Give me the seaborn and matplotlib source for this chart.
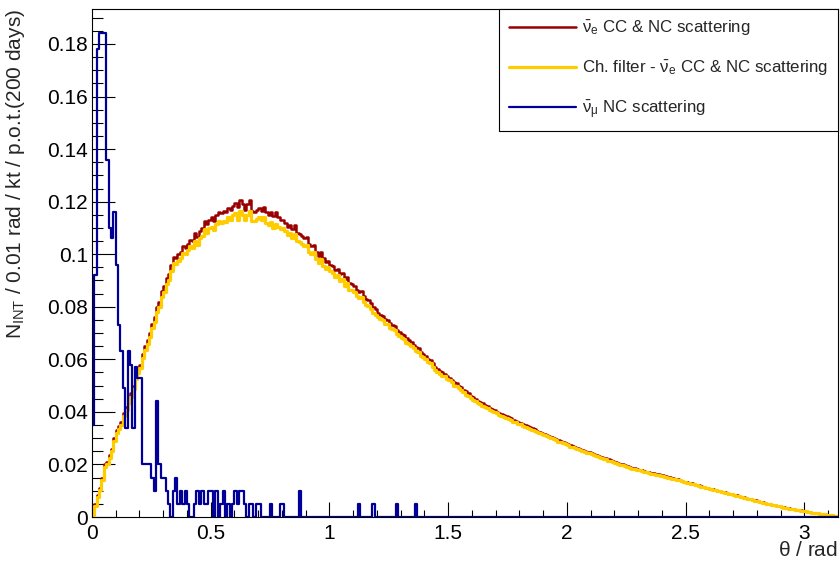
import numpy as np
import pandas as pd
import matplotlib
matplotlib.use("Agg")
import matplotlib.pyplot as plt
import seaborn as sns
from matplotlib.ticker import MultipleLocator, FormatStrFormatter

# histogram binning: 0.01 rad bins from 0 to pi
bin_width = 0.01
n_bins = 314

# anti-nu_e CC & NC scattering (all events)
nue_all = [
    0.0015, 0.0050, 0.0085, 0.0110, 0.0150, 0.0200, 0.0210, 0.0235, 0.0260, 0.0300,
    0.0330, 0.0345, 0.0360, 0.0395, 0.0420, 0.0445, 0.0470, 0.0500, 0.0540, 0.0560,
    0.0580, 0.0620, 0.0650, 0.0675, 0.0700, 0.0735, 0.0760, 0.0800, 0.0820, 0.0860,
    0.0880, 0.0910, 0.0925, 0.0960, 0.0990, 0.0985, 0.1000, 0.1010, 0.1030, 0.1025,
    0.1040, 0.1055, 0.1050, 0.1080, 0.1065, 0.1090, 0.1100, 0.1125, 0.1115, 0.1130,
    0.1140, 0.1125, 0.1150, 0.1160, 0.1155, 0.1165, 0.1160, 0.1175, 0.1170, 0.1185,
    0.1195, 0.1180, 0.1205, 0.1190, 0.1170, 0.1190, 0.1205, 0.1165, 0.1160, 0.1170,
    0.1175, 0.1165, 0.1180, 0.1160, 0.1150, 0.1160, 0.1145, 0.1160, 0.1140, 0.1130,
    0.1130, 0.1120, 0.1105, 0.1110, 0.1095, 0.1110, 0.1080, 0.1075, 0.1070, 0.1060,
    0.1065, 0.1040, 0.1030, 0.1035, 0.1010, 0.0995, 0.1010, 0.0985, 0.0970, 0.0975,
    0.0960, 0.0955, 0.0940, 0.0945, 0.0925, 0.0930, 0.0905, 0.0915, 0.0890, 0.0885,
    0.0880, 0.0865, 0.0855, 0.0860, 0.0840, 0.0830, 0.0825, 0.0815, 0.0800, 0.0790,
    0.0778, 0.0770, 0.0765, 0.0752, 0.0750, 0.0738, 0.0730, 0.0728, 0.0712, 0.0705,
    0.0697, 0.0692, 0.0680, 0.0672, 0.0665, 0.0656, 0.0645, 0.0642, 0.0628, 0.0620,
    0.0612, 0.0602, 0.0598, 0.0585, 0.0572, 0.0565, 0.0555, 0.0550, 0.0546, 0.0535,
    0.0530, 0.0522, 0.0512, 0.0508, 0.0500, 0.0493, 0.0485, 0.0478, 0.0470, 0.0462,
    0.0455, 0.0450, 0.0443, 0.0438, 0.0432, 0.0425, 0.0421, 0.0415, 0.0410, 0.0406,
    0.0401, 0.0397, 0.0392, 0.0388, 0.0384, 0.0380, 0.0376, 0.0370, 0.0367, 0.0362,
    0.0358, 0.0354, 0.0350, 0.0345, 0.0342, 0.0337, 0.0333, 0.0329, 0.0325, 0.0321,
    0.0317, 0.0313, 0.0309, 0.0305, 0.0301, 0.0297, 0.0292, 0.0289, 0.0285, 0.0281,
    0.0277, 0.0273, 0.0270, 0.0266, 0.0262, 0.0259, 0.0256, 0.0252, 0.0249, 0.0246,
    0.0243, 0.0239, 0.0236, 0.0233, 0.0230, 0.0226, 0.0223, 0.0219, 0.0216, 0.0213,
    0.0209, 0.0206, 0.0203, 0.0200, 0.0197, 0.0194, 0.0191, 0.0188, 0.0185, 0.0182,
    0.0180, 0.0178, 0.0176, 0.0173, 0.0171, 0.0169, 0.0166, 0.0164, 0.0162, 0.0160,
    0.0158, 0.0157, 0.0153, 0.0151, 0.0149, 0.0146, 0.0143, 0.0141, 0.0138, 0.0135,
    0.0133, 0.0130, 0.0128, 0.0125, 0.0122, 0.0121, 0.0117, 0.0115, 0.0112, 0.0110,
    0.0107, 0.0105, 0.0103, 0.0100, 0.0099, 0.0096, 0.0094, 0.0091, 0.0089, 0.0087,
    0.0085, 0.0082, 0.0080, 0.0078, 0.0075, 0.0073, 0.0070, 0.0068, 0.0065, 0.0063,
    0.0060, 0.0058, 0.0056, 0.0053, 0.0051, 0.0049, 0.0047, 0.0045, 0.0042, 0.0040,
    0.0038, 0.0037, 0.0035, 0.0033, 0.0031, 0.0030, 0.0028, 0.0026, 0.0025, 0.0023,
    0.0022, 0.0020, 0.0019, 0.0017, 0.0016, 0.0015, 0.0013, 0.0012, 0.0010, 0.0009,
    0.0008, 0.0006, 0.0004, 0.0002,
]

# same channel after the Cherenkov filter
nue_filter = [
    0.0008, 0.0042, 0.0078, 0.0102, 0.0142, 0.0190, 0.0202, 0.0226, 0.0250, 0.0290,
    0.0320, 0.0335, 0.0350, 0.0385, 0.0408, 0.0432, 0.0458, 0.0488, 0.0526, 0.0548,
    0.0566, 0.0605, 0.0636, 0.0660, 0.0684, 0.0718, 0.0742, 0.0780, 0.0800, 0.0838,
    0.0858, 0.0888, 0.0900, 0.0935, 0.0965, 0.0962, 0.0975, 0.0985, 0.1005, 0.1000,
    0.1015, 0.1030, 0.1022, 0.1050, 0.1035, 0.1060, 0.1068, 0.1095, 0.1082, 0.1098,
    0.1105, 0.1092, 0.1115, 0.1125, 0.1120, 0.1128, 0.1122, 0.1140, 0.1132, 0.1150,
    0.1158, 0.1130, 0.1165, 0.1150, 0.1132, 0.1150, 0.1165, 0.1128, 0.1125, 0.1135,
    0.1140, 0.1130, 0.1142, 0.1120, 0.1110, 0.1122, 0.1098, 0.1115, 0.1102, 0.1095,
    0.1098, 0.1090, 0.1072, 0.1080, 0.1062, 0.1078, 0.1050, 0.1045, 0.1040, 0.1030,
    0.1035, 0.1010, 0.1000, 0.1008, 0.0980, 0.0968, 0.0982, 0.0955, 0.0942, 0.0950,
    0.0935, 0.0930, 0.0915, 0.0920, 0.0898, 0.0905, 0.0880, 0.0890, 0.0865, 0.0862,
    0.0858, 0.0842, 0.0832, 0.0838, 0.0818, 0.0808, 0.0802, 0.0792, 0.0778, 0.0770,
    0.0760, 0.0752, 0.0750, 0.0735, 0.0734, 0.0720, 0.0715, 0.0712, 0.0696, 0.0690,
    0.0683, 0.0678, 0.0664, 0.0660, 0.0650, 0.0642, 0.0630, 0.0629, 0.0612, 0.0607,
    0.0600, 0.0588, 0.0586, 0.0572, 0.0560, 0.0553, 0.0543, 0.0535, 0.0536, 0.0524,
    0.0520, 0.0512, 0.0500, 0.0498, 0.0490, 0.0483, 0.0475, 0.0466, 0.0462, 0.0452,
    0.0447, 0.0442, 0.0434, 0.0431, 0.0424, 0.0418, 0.0414, 0.0406, 0.0403, 0.0399,
    0.0394, 0.0390, 0.0384, 0.0382, 0.0377, 0.0374, 0.0369, 0.0363, 0.0361, 0.0355,
    0.0352, 0.0347, 0.0344, 0.0338, 0.0336, 0.0331, 0.0327, 0.0322, 0.0319, 0.0315,
    0.0311, 0.0307, 0.0304, 0.0299, 0.0296, 0.0292, 0.0286, 0.0284, 0.0280, 0.0276,
    0.0273, 0.0268, 0.0266, 0.0262, 0.0257, 0.0255, 0.0252, 0.0247, 0.0245, 0.0242,
    0.0239, 0.0235, 0.0232, 0.0229, 0.0226, 0.0222, 0.0219, 0.0215, 0.0212, 0.0209,
    0.0205, 0.0202, 0.0199, 0.0196, 0.0193, 0.0190, 0.0187, 0.0184, 0.0181, 0.0178,
    0.0177, 0.0174, 0.0172, 0.0170, 0.0168, 0.0165, 0.0163, 0.0161, 0.0158, 0.0156,
    0.0156, 0.0154, 0.0150, 0.0149, 0.0146, 0.0144, 0.0141, 0.0139, 0.0136, 0.0134,
    0.0131, 0.0129, 0.0126, 0.0124, 0.0121, 0.0119, 0.0116, 0.0113, 0.0111, 0.0109,
    0.0106, 0.0104, 0.0102, 0.0099, 0.0098, 0.0095, 0.0093, 0.0090, 0.0088, 0.0086,
    0.0084, 0.0081, 0.0079, 0.0077, 0.0074, 0.0072, 0.0069, 0.0067, 0.0064, 0.0062,
    0.0059, 0.0057, 0.0055, 0.0053, 0.0050, 0.0048, 0.0046, 0.0044, 0.0042, 0.0040,
    0.0038, 0.0036, 0.0034, 0.0032, 0.0031, 0.0029, 0.0028, 0.0026, 0.0024, 0.0023,
    0.0021, 0.0020, 0.0018, 0.0017, 0.0016, 0.0014, 0.0013, 0.0011, 0.0010, 0.0009,
    0.0007, 0.0006, 0.0004, 0.0002,
]

# anti-nu_mu NC scattering
numu_nc = [
    0.035, 0.092, 0.178, 0.184, 0.184, 0.184, 0.136, 0.110, 0.106, 0.116,
    0.096, 0.073, 0.063, 0.049, 0.034, 0.063, 0.058, 0.034, 0.057, 0.053,
    0.053, 0.020, 0.020, 0.020, 0.020, 0.015, 0.010, 0.044, 0.020, 0.015,
    0.015, 0.010, 0.005, 0.000, 0.010, 0.015, 0.005, 0.010, 0.005, 0.010,
    0.005, 0.000, 0.000, 0.005, 0.010, 0.005, 0.010, 0.005, 0.005, 0.010,
    0.010, 0.000, 0.010, 0.000, 0.005, 0.010, 0.000, 0.005, 0.000, 0.005,
    0.010, 0.005, 0.010, 0.010, 0.005, 0.000, 0.005, 0.005, 0.000, 0.005,
    0.005, 0.000, 0.000, 0.000, 0.000, 0.005, 0.000, 0.000, 0.000, 0.005,
    0.005, 0.000, 0.000, 0.000, 0.000, 0.000, 0.000, 0.010, 0.000, 0.000,
    0.000, 0.000, 0.000, 0.000, 0.000, 0.000, 0.000, 0.000, 0.000, 0.000,
    0.000, 0.000, 0.000, 0.000, 0.000, 0.000, 0.000, 0.000, 0.000, 0.000,
    0.000, 0.000, 0.005, 0.000, 0.000, 0.000, 0.000, 0.000, 0.005, 0.000,
    0.000, 0.000, 0.000, 0.000, 0.000, 0.000, 0.000, 0.000, 0.005, 0.000,
    0.000, 0.000, 0.000, 0.000, 0.000, 0.000, 0.005, 0.000, 0.000, 0.000,
    0.000, 0.000, 0.000, 0.000, 0.000, 0.000, 0.000, 0.000, 0.000, 0.000,
    0.000, 0.000, 0.000, 0.000, 0.000, 0.000, 0.000, 0.000, 0.000, 0.000,
    0.000, 0.000, 0.000, 0.000, 0.000, 0.000, 0.000, 0.000, 0.000, 0.000,
    0.000, 0.000, 0.000, 0.000, 0.000, 0.000, 0.000, 0.000, 0.000, 0.000,
    0.000, 0.000, 0.000, 0.000, 0.000, 0.000, 0.000, 0.000, 0.000, 0.000,
    0.000, 0.000, 0.000, 0.000, 0.000, 0.000, 0.000, 0.000, 0.000, 0.000,
    0.000, 0.000, 0.000, 0.000, 0.000, 0.000, 0.000, 0.000, 0.000, 0.000,
    0.000, 0.000, 0.000, 0.000, 0.000, 0.000, 0.000, 0.000, 0.000, 0.000,
    0.000, 0.000, 0.000, 0.000, 0.000, 0.000, 0.000, 0.000, 0.000, 0.000,
    0.000, 0.000, 0.000, 0.000, 0.000, 0.000, 0.000, 0.000, 0.000, 0.000,
    0.000, 0.000, 0.000, 0.000, 0.000, 0.000, 0.000, 0.000, 0.000, 0.000,
    0.000, 0.000, 0.000, 0.000, 0.000, 0.000, 0.000, 0.000, 0.000, 0.000,
    0.000, 0.000, 0.000, 0.000, 0.000, 0.000, 0.000, 0.000, 0.000, 0.000,
    0.000, 0.000, 0.000, 0.000, 0.000, 0.000, 0.000, 0.000, 0.000, 0.000,
    0.000, 0.000, 0.000, 0.000, 0.000, 0.000, 0.000, 0.000, 0.000, 0.000,
    0.000, 0.000, 0.000, 0.000, 0.000, 0.000, 0.000, 0.000, 0.000, 0.000,
    0.000, 0.000, 0.000, 0.000, 0.000, 0.000, 0.000, 0.000, 0.000, 0.000,
    0.000, 0.000, 0.000, 0.000,
]

labels = [
    r"$\mathregular{\bar{\nu}_e}$ CC & NC scattering",
    r"Ch. filter - $\mathregular{\bar{\nu}_e}$ CC & NC scattering",
    r"$\mathregular{\bar{\nu}_\mu}$ NC scattering",
]
colors = ["#990000", "#ffcc00", "#000099"]
widths = [1.8, 2.3, 1.6]

centres = (np.arange(n_bins) + 0.5) * bin_width

sns.set_style("white")
plt.rcParams["font.family"] = ["Liberation Sans", "DejaVu Sans"]
plt.rcParams["mathtext.fontset"] = "custom"
plt.rcParams["mathtext.rm"] = "Liberation Sans"
plt.rcParams["mathtext.it"] = "Liberation Sans:italic"

fig = plt.figure(figsize=(8.4, 5.63), dpi=100)
ax = fig.add_axes([0.1095, 0.0817, 0.8881, 0.9023])

for series, lab, col, lw in zip([nue_all, nue_filter, numu_nc], labels, colors, widths):
    df = pd.DataFrame({"theta": centres[:len(series)], "n": series})
    sns.histplot(data=df, x="theta", weights="n", bins=n_bins,
                 binrange=(0, n_bins * bin_width), element="step", fill=False,
                 color=col, linewidth=lw, label=lab, ax=ax)

ax.set_xlim(0, np.pi)
ax.set_ylim(0, 0.1933)

ax.xaxis.set_major_locator(MultipleLocator(0.5))
ax.xaxis.set_minor_locator(MultipleLocator(0.1))
ax.yaxis.set_major_locator(MultipleLocator(0.02))
ax.yaxis.set_minor_locator(MultipleLocator(0.005))
ax.xaxis.set_major_formatter(FormatStrFormatter("%g"))
ax.yaxis.set_major_formatter(FormatStrFormatter("%g"))

ax.tick_params(axis="both", which="both", direction="in", width=0.8, colors="black",
               labelsize=15, top=False, right=False, left=True, bottom=True)
ax.tick_params(axis="y", which="major", length=16.5, pad=3)
ax.tick_params(axis="y", which="minor", length=8)
ax.tick_params(axis="x", which="major", length=10.8, pad=5)
ax.tick_params(axis="x", which="minor", length=5.4)

for sp in ax.spines.values():
    sp.set_color("black")
    sp.set_linewidth(0.8)

ax.set_xlabel(r"$\mathregular{\theta}$ / rad", fontsize=15, ha="right", va="top")
ax.xaxis.set_label_coords(1.0, -0.048)
ax.set_ylabel(r"$\mathregular{N_{INT}}$ / 0.01 rad / kt / p.o.t.(200 days)",
              fontsize=15, loc="top", labelpad=14)

leg = ax.legend(loc="upper right", borderaxespad=0, fontsize=12.2, frameon=True,
                fancybox=False, framealpha=1, edgecolor="black",
                handlelength=4.0, handletextpad=0.3, labelspacing=1.2,
                borderpad=0.6)
leg.get_frame().set_linewidth(0.8)

fig.savefig("out.png", dpi=100)
